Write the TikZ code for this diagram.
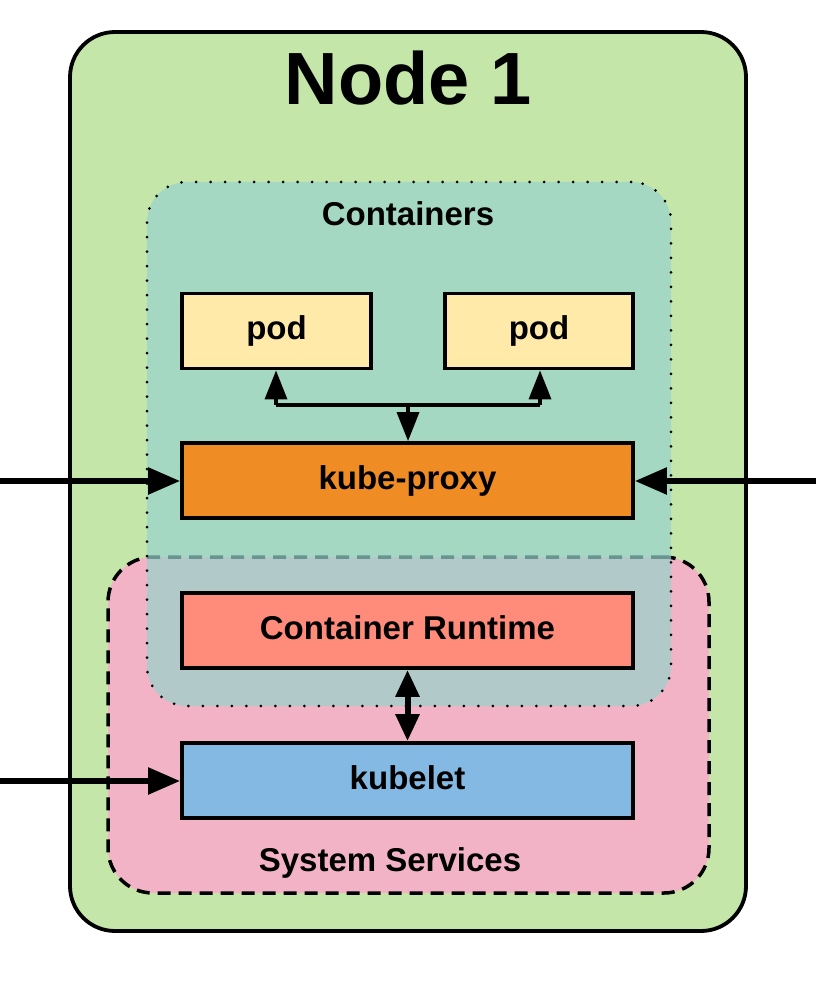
\documentclass[tikz,border=0pt]{standalone}
\usepackage{fontspec}
\setmainfont{Liberation Sans}
\usetikzlibrary{arrows.meta}
\definecolor{nodegreen}{RGB}{197,230,169}
\definecolor{contcol}{RGB}{151,211,205}
\definecolor{syscol}{RGB}{242,179,198}
\definecolor{podcol}{RGB}{255,234,170}
\definecolor{proxycol}{RGB}{240,140,36}
\definecolor{runtimecol}{RGB}{255,139,123}
\definecolor{kubeletcol}{RGB}{131,185,227}
\tikzset{
  lbl/.style={font=\fontsize{33}{38}\selectfont\bfseries},
  box/.style={draw=black, line width=3.8pt, minimum height=75pt, inner sep=0pt, text height=24pt, text depth=7pt, lbl},
  conn/.style={line width=3.5pt, -{Triangle[length=29pt,width=22pt]}},
  sideconn/.style={line width=5.5pt, -{Triangle[length=32pt,width=26pt]}},
  conn2/.style={line width=6pt, {Triangle[length=27pt,width=23pt]}-{Triangle[length=27pt,width=23pt]}},
}
\begin{document}
\begin{tikzpicture}[x=1pt,y=-1pt]
\useasboundingbox (0,0) rectangle (816,981);
% outer node
\node (node1) [draw=black, fill=nodegreen, line width=3.8pt, rounded corners=45pt, minimum width=676pt, minimum height=899pt, inner sep=0pt] at (408,481.5) {};
\node (title) at (408,78) {\fontsize{74}{82}\selectfont\bfseries Node 1};
% system services
\node (sys) [draw=black, fill=syscol, line width=3.5pt, dash pattern=on 13pt off 8pt, rounded corners=45pt, minimum width=601pt, minimum height=336pt, inner sep=0pt] at (408.5,725) {};
% containers
\node (cont) [draw=black, fill=contcol, fill opacity=0.7, draw opacity=1, line width=3pt, line cap=round, dash pattern=on 0pt off 14.5pt, rounded corners=40pt, minimum width=524pt, minimum height=524pt, inner sep=0pt] at (409,444) {};
\node (contlabel) [lbl] at (408,214) {Containers};
\node (syslabel) [lbl] at (390,863) {System Services};
% boxes
\node (pod1) [box, fill=podcol, minimum width=189pt] at (276.5,331) {pod};
\node (pod2) [box, fill=podcol, minimum width=188pt] at (539,331) {pod};
\node (proxy) [box, fill=proxycol, minimum width=451pt] at (407.5,480.5) {kube-proxy};
\node (runtime) [box, fill=runtimecol, minimum width=451pt] at (407.5,630.5) {Container Runtime};
\node (kubelet) [box, fill=kubeletcol, minimum width=451pt] at (407.5,780.5) {kubelet};
% connectors
\coordinate (jl) at (276,405);
\coordinate (jm) at (408,405);
\coordinate (jr) at (540,405);
\draw[line width=3.5pt] (jl) -- (jr);
\draw[conn] (jl) -- (jl |- pod1.south);
\draw[conn] (jr) -- (jr |- pod2.south);
\draw[conn] (jm) -- (jm |- proxy.north);
\coordinate (inl) at (0,481);
\coordinate (inr) at (816,481);
\coordinate (ink) at (0,781);
\draw[sideconn] (inl) -- (inl -| proxy.west);
\draw[sideconn] (inr) -- (inr -| proxy.east);
\draw[sideconn] (ink) -- (ink -| kubelet.west);
\draw[conn2] (runtime.south) -- (kubelet.north);
\end{tikzpicture}
\end{document}
